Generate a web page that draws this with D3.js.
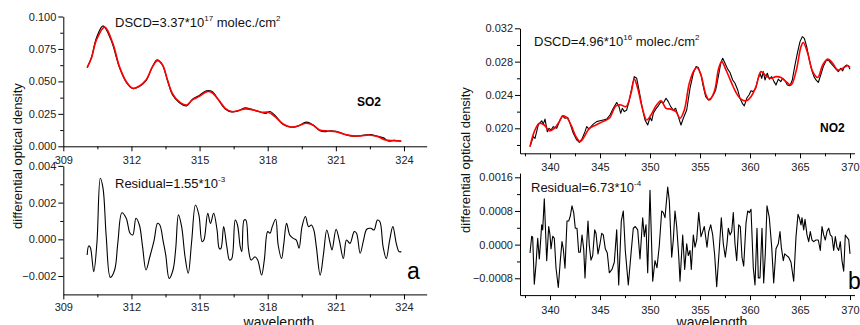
<!DOCTYPE html>
<html>
<head>
<meta charset="utf-8">
<script src="https://cdn.jsdelivr.net/npm/d3@7"></script>
<style>
  body { margin: 0; background: #fff; }
  svg { font-family: "Liberation Sans", Arial, sans-serif; }
</style>
</head>
<body>
<svg id="chart" width="860" height="325"></svg>
<script>
// ---- data: [wavelength, value] ----
const so2Measured = [[310.05,0.0605],[310.24,0.0685],[310.46,0.0835],[310.75,0.0928],[311.1,0.082],[311.47,0.061],[311.77,0.0495],[312.06,0.0445],[312.35,0.046],[312.64,0.0505],[312.93,0.0615],[313.12,0.0665],[313.35,0.063],[313.59,0.0505],[313.8,0.04],[314.1,0.0338],[314.43,0.0312],[314.68,0.036],[314.97,0.039],[315.3,0.0428],[315.55,0.0422],[315.84,0.0355],[316.13,0.0288],[316.42,0.0265],[316.71,0.0274],[317.0,0.0296],[317.3,0.0284],[317.6,0.0268],[317.9,0.0254],[318.1,0.0268],[318.35,0.0232],[318.68,0.0168],[319.04,0.0148],[319.33,0.0155],[319.7,0.0186],[319.99,0.0165],[320.28,0.0122],[320.5,0.0112],[320.7,0.0118],[321.0,0.0115],[321.37,0.0093],[321.74,0.0078],[322.1,0.0082],[322.5,0.009],[322.83,0.0078],[323.1,0.0065],[323.3,0.0041],[323.56,0.0045],[323.88,0.0039]];

const so2Fit = [[310.05,0.0607],[310.24,0.068],[310.46,0.082],[310.82,0.0918],[311.18,0.0794],[311.47,0.0614],[311.77,0.0499],[312.06,0.0447],[312.35,0.0465],[312.64,0.051],[312.93,0.0614],[313.15,0.066],[313.37,0.0627],[313.59,0.051],[313.8,0.0408],[314.1,0.0344],[314.43,0.0318],[314.68,0.0357],[314.97,0.0383],[315.33,0.0421],[315.55,0.0413],[315.84,0.0357],[316.13,0.0293],[316.42,0.0267],[316.71,0.0275],[317.0,0.0288],[317.37,0.028],[317.73,0.0262],[318.02,0.0262],[318.32,0.0229],[318.68,0.0172],[319.04,0.0147],[319.33,0.0157],[319.7,0.0177],[319.99,0.0164],[320.28,0.0126],[320.64,0.0118],[321.0,0.0113],[321.37,0.0093],[321.74,0.008],[322.1,0.008],[322.46,0.0087],[322.83,0.0075],[323.19,0.0049],[323.56,0.0044],[323.88,0.0041]];

// residual in units of 1e-3
const so2Residual = [[310.05,-0.85],[310.12,-0.36],[310.19,-0.44],[310.34,-1.76],[310.48,-0.2],[310.63,3.33],[310.75,2.78],[310.89,0.15],[311.07,-2.07],[311.26,-1.67],[311.4,-0.2],[311.58,1.45],[311.77,1.15],[311.94,0.33],[312.06,0.24],[312.2,1.15],[312.35,0.78],[312.49,-0.4],[312.64,-1.67],[312.81,-0.95],[313.0,-0.04],[313.15,0.87],[313.25,0.78],[313.4,-0.13],[313.51,-0.85],[313.66,-2.13],[313.83,-1.67],[313.95,-0.5],[314.07,1.33],[314.21,0.69],[314.36,-0.95],[314.5,-1.85],[314.65,-0.13],[314.82,1.87],[314.97,1.33],[315.11,-0.13],[315.19,-0.04],[315.36,1.42],[315.48,0.87],[315.62,1.42],[315.77,0.51],[315.87,-0.5],[315.94,-0.5],[316.06,0.69],[316.2,-0.4],[316.32,-1.13],[316.42,-1.04],[316.57,1.05],[316.67,0.78],[316.79,-0.4],[316.86,-0.67],[316.96,1.05],[317.04,1.05],[317.15,-0.49],[317.27,-1.13],[317.44,-0.95],[317.56,-1.13],[317.73,-1.95],[317.85,-1.13],[318.0,0.42],[318.1,0.33],[318.2,0.69],[318.35,1.09],[318.46,-0.31],[318.61,-1.04],[318.71,-0.22],[318.83,0.87],[318.97,0.24],[319.12,0.05],[319.26,-0.04],[319.38,-0.49],[319.51,0.69],[319.66,1.24],[319.8,0.69],[319.92,0.78],[320.03,0.51],[320.14,-0.4],[320.31,-1.95],[320.46,-0.76],[320.6,0.51],[320.75,-0.22],[320.83,-0.58],[321.01,0.55],[321.15,-0.04],[321.33,-1.04],[321.47,-0.04],[321.62,-0.22],[321.81,0.42],[321.91,0.33],[322.07,-0.76],[322.22,-0.04],[322.36,0.55],[322.54,0.6],[322.68,0.51],[322.83,1.05],[322.94,0.96],[323.08,-0.4],[323.22,-1.04],[323.37,-0.04],[323.51,0.69],[323.66,-0.22],[323.78,-0.67],[323.88,-0.67]];

const no2Measured = [[338.0,0.0178],[338.33,0.019],[338.5,0.0188],[338.83,0.0204],[339.17,0.0209],[339.33,0.0205],[339.5,0.0211],[339.73,0.0196],[339.9,0.02],[340.1,0.0198],[340.33,0.0202],[340.67,0.02],[341.0,0.021],[341.27,0.0215],[341.5,0.0212],[341.77,0.0213],[342.0,0.0206],[342.33,0.0194],[342.67,0.0186],[342.93,0.0183],[343.23,0.0188],[343.5,0.0196],[343.67,0.0202],[343.9,0.0199],[344.1,0.0202],[344.33,0.0205],[344.67,0.0208],[345.0,0.0209],[345.33,0.021],[345.67,0.0211],[346.0,0.0216],[346.33,0.0224],[346.67,0.0231],[346.9,0.0226],[347.07,0.0218],[347.23,0.0224],[347.43,0.022],[347.67,0.0222],[347.9,0.0232],[348.17,0.0248],[348.43,0.0262],[348.67,0.026],[348.93,0.0244],[349.23,0.0224],[349.5,0.021],[349.77,0.0204],[350.0,0.0213],[350.17,0.0209],[350.33,0.0218],[350.57,0.0223],[350.83,0.0227],[351.1,0.0232],[351.33,0.023],[351.6,0.0236],[351.83,0.0232],[352.07,0.0226],[352.33,0.0222],[352.57,0.0224],[352.83,0.0214],[353.1,0.0204],[353.33,0.0212],[353.67,0.0222],[354.0,0.0248],[354.33,0.0266],[354.6,0.0274],[354.83,0.0273],[355.1,0.0264],[355.33,0.025],[355.57,0.0238],[355.83,0.0234],[356.1,0.0236],[356.33,0.024],[356.57,0.0246],[356.83,0.0262],[357.07,0.0278],[357.27,0.0284],[357.5,0.0278],[357.77,0.0271],[358.0,0.0267],[358.27,0.0258],[358.5,0.0254],[358.77,0.0246],[359.0,0.0236],[359.23,0.023],[359.43,0.0227],[359.67,0.0236],[359.9,0.024],[360.1,0.0245],[360.33,0.0244],[360.57,0.0248],[360.77,0.0258],[361.0,0.0266],[361.17,0.026],[361.33,0.0268],[361.5,0.0258],[361.73,0.0266],[361.93,0.0259],[362.17,0.0262],[362.4,0.0256],[362.6,0.0252],[362.83,0.0259],[363.07,0.0256],[363.27,0.026],[363.5,0.0257],[363.73,0.0252],[364.0,0.0251],[364.23,0.0258],[364.5,0.0276],[364.77,0.0292],[365.0,0.0304],[365.23,0.031],[365.43,0.0308],[365.67,0.0298],[365.9,0.0284],[366.17,0.027],[366.4,0.0262],[366.6,0.0258],[366.83,0.0255],[367.07,0.0264],[367.33,0.0274],[367.6,0.0281],[367.83,0.0282],[368.1,0.0278],[368.33,0.0275],[368.6,0.0271],[368.83,0.0268],[369.07,0.0272],[369.27,0.0269],[369.43,0.0274],[369.67,0.0276],[369.83,0.0275],[370.0,0.0271]];

const no2Fit = [[338.0,0.0178],[338.43,0.0196],[338.93,0.0206],[339.43,0.0204],[339.93,0.0197],[340.43,0.02],[340.93,0.0208],[341.27,0.0215],[341.67,0.0213],[342.1,0.0204],[342.6,0.019],[343.0,0.0184],[343.43,0.019],[343.93,0.02],[344.6,0.0204],[345.27,0.0208],[345.93,0.0212],[346.6,0.0227],[347.1,0.0228],[347.6,0.0226],[348.1,0.0242],[348.43,0.0259],[348.77,0.0248],[349.2,0.0226],[349.67,0.021],[350.1,0.0216],[350.6,0.0227],[351.1,0.0233],[351.6,0.0224],[352.1,0.0223],[352.6,0.022],[353.0,0.0212],[353.43,0.0222],[353.93,0.0254],[354.43,0.027],[354.7,0.0273],[355.1,0.0264],[355.6,0.024],[355.93,0.0234],[356.43,0.0244],[356.87,0.0272],[357.17,0.028],[357.6,0.027],[358.1,0.0256],[358.6,0.0243],[359.1,0.0235],[359.6,0.0233],[360.1,0.0238],[360.6,0.025],[361.1,0.0268],[361.6,0.0263],[362.1,0.026],[362.6,0.0262],[363.1,0.0261],[363.6,0.0256],[364.1,0.0252],[364.6,0.0268],[365.1,0.0298],[365.33,0.0303],[365.77,0.029],[366.27,0.0268],[366.77,0.0261],[367.27,0.0276],[367.77,0.0283],[368.27,0.0278],[368.77,0.027],[369.27,0.0272],[369.77,0.0275],[370.0,0.0273]];

// residual in units of 1e-4
const no2Residual = [[338.0,-2.0],[338.17,2.0],[338.27,1.7],[338.43,-9.4],[338.6,-4.7],[338.77,1.5],[338.93,-3.4],[339.03,-0.2],[339.17,4.7],[339.27,3.5],[339.43,10.9],[339.67,-3.8],[339.87,4.3],[340.0,2.3],[340.1,-1.0],[340.27,2.0],[340.43,1.5],[340.6,-5.5],[340.83,-10.2],[341.03,-3.8],[341.2,0.7],[341.33,-1.0],[341.5,-5.6],[341.7,5.6],[341.87,5.6],[342.03,6.8],[342.2,9.2],[342.37,7.6],[342.53,3.9],[342.7,3.9],[342.87,-1.8],[343.03,-1.8],[343.2,2.3],[343.37,-1.0],[343.5,-7.9],[343.67,0.2],[343.8,5.6],[343.93,-0.2],[344.1,-3.7],[344.27,-2.6],[344.47,3.5],[344.6,2.7],[344.8,-2.2],[345.0,0.2],[345.17,2.7],[345.33,2.3],[345.53,-1.0],[345.73,-2.0],[345.93,-6.7],[346.2,-5.9],[346.43,-4.2],[346.67,3.5],[346.87,-9.6],[347.13,5.6],[347.33,8.0],[347.53,-1.4],[347.83,-9.6],[348.1,-2.2],[348.33,3.9],[348.53,4.3],[348.77,3.5],[349.0,-3.4],[349.27,6.4],[349.43,1.9],[349.6,4.7],[349.77,-6.7],[350.0,12.9],[350.27,-8.7],[350.5,-3.8],[350.7,-5.5],[350.93,-0.2],[351.17,8.0],[351.33,7.6],[351.5,6.4],[351.77,13.7],[351.93,10.4],[352.17,-3.0],[352.33,1.1],[352.5,8.0],[352.67,4.3],[352.87,-2.6],[353.0,-8.7],[353.27,2.3],[353.47,-5.9],[353.67,0.2],[353.83,-2.6],[354.0,-1.4],[354.13,-5.9],[354.33,2.3],[354.5,-0.6],[354.67,1.1],[354.87,7.6],[355.1,1.9],[355.27,3.1],[355.43,4.3],[355.7,-0.6],[355.87,3.1],[356.07,4.7],[356.27,2.3],[356.47,-2.6],[356.67,-10.0],[356.93,-1.0],[357.13,6.4],[357.33,0.2],[357.53,-3.0],[357.7,0.2],[357.83,3.9],[358.0,2.3],[358.17,3.1],[358.33,7.6],[358.5,0.2],[358.67,-3.8],[358.87,4.7],[359.03,4.3],[359.2,-3.0],[359.37,-5.1],[359.6,5.1],[359.77,8.0],[359.93,7.6],[360.1,8.4],[360.33,-5.5],[360.5,-9.6],[360.7,3.9],[360.83,-7.9],[361.0,-7.9],[361.2,3.9],[361.37,-9.1],[361.53,-2.2],[361.7,9.2],[361.93,6.4],[362.17,-0.6],[362.37,-9.1],[362.6,-1.0],[362.83,0.2],[363.0,3.1],[363.13,-0.6],[363.33,-3.8],[363.47,-2.2],[363.67,-2.6],[363.87,-3.0],[364.1,-4.2],[364.37,-8.7],[364.6,1.9],[364.8,7.2],[364.93,6.4],[365.1,4.7],[365.2,6.4],[365.37,3.5],[365.5,6.0],[365.7,2.3],[365.87,0.7],[366.03,3.1],[366.2,1.1],[366.37,0.7],[366.6,1.1],[366.83,1.1],[367.03,-1.4],[367.2,4.3],[367.37,2.3],[367.53,1.1],[367.7,3.1],[367.87,3.9],[368.03,2.3],[368.2,1.9],[368.37,-1.4],[368.53,1.9],[368.7,-0.6],[368.87,-1.4],[369.03,0.7],[369.2,-3.8],[369.37,-6.3],[369.53,2.3],[369.7,1.7],[369.87,1.2],[370.0,-2.2]];

// ---- ticks ----
const so2XTicks = [309, 312, 315, 318, 321, 324];
const so2XMinor = [310.5, 313.5, 316.5, 319.5, 322.5];
const so2YTicks = [0, 0.025, 0.05, 0.075, 0.1];
const so2YMinor = [0.0125, 0.0375, 0.0625, 0.0875];
const so2ResTicks = [-0.002, 0, 0.002, 0.004];
const so2ResMinor = [-0.001, 0.001, 0.003];
const no2XTicks = [340, 345, 350, 355, 360, 365, 370];
const no2XMinor = [337.5, 342.5, 347.5, 352.5, 357.5, 362.5, 367.5];
const no2YTicks = [0.020, 0.024, 0.028, 0.032];
const no2YMinor = [0.018, 0.022, 0.026, 0.030];
const no2ResTicks = [-0.0008, 0, 0.0008, 0.0016];
const no2ResMinor = [-0.0004, 0.0004, 0.0012];

const svg = d3.select('#chart');

function panel(o) {
  const x = d3.scaleLinear().domain(o.xDomain).range(o.xRange);
  const y = d3.scaleLinear().domain(o.yDomain).range(o.yRange);
  const g = svg.append('g');

  // minor ticks first
  g.append('g')
    .attr('transform', `translate(0,${o.yRange[0]})`)
    .call(d3.axisBottom(x).tickValues(o.xMinor).tickSize(3).tickFormat(''))
    .call(a => a.select('.domain').remove());
  g.append('g')
    .attr('transform', `translate(${o.xRange[0]},0)`)
    .call(d3.axisLeft(y).tickValues(o.yMinor).tickSize(3).tickFormat(''))
    .call(a => a.select('.domain').remove());

  g.append('g')
    .attr('transform', `translate(0,${o.yRange[0]})`)
    .call(d3.axisBottom(x).tickValues(o.xTicks).tickSize(5).tickPadding(o.xPad).tickSizeOuter(0).tickFormat(d3.format('d')))
    .call(a => a.selectAll('text').attr('font-size', 11).attr('fill', '#222'));
  g.append('g')
    .attr('transform', `translate(${o.xRange[0]},0)`)
    .call(d3.axisLeft(y).tickValues(o.yTicks).tickSize(5).tickPadding(2).tickSizeOuter(0).tickFormat(d3.format(o.yFmt)))
    .call(a => a.selectAll('text').attr('font-size', 11).attr('fill', '#222'));

  g.selectAll('.domain, .tick line').attr('stroke', '#000').attr('stroke-width', 1);

  o.series.forEach(s => {
    g.append('path')
      .datum(s.data)
      .attr('fill', 'none')
      .attr('stroke', s.color)
      .attr('stroke-width', s.width)
      .attr('stroke-linejoin', 'round')
      .attr('d', d3.line()
        .x(d => x(d[0]))
        .y(d => y(d[1] * (s.scale || 1)))
        .curve(s.curve || d3.curveCatmullRom));
  });
  return g;
}

// panel a
panel({
  xDomain: [309, 325], xRange: [63.3, 426.7],
  yDomain: [0, 0.1], yRange: [146.3, 16.5],
  xTicks: so2XTicks, xMinor: so2XMinor, yTicks: so2YTicks, yMinor: so2YMinor,
  yFmt: '.3f', xPad: 5,
  series: [
    { data: so2Measured, color: '#000', width: 1.2 },
    { data: so2Fit, color: '#ff0000', width: 1.6 }
  ]
});
panel({
  xDomain: [309, 325], xRange: [63.3, 426.7],
  yDomain: [-0.003, 0.004], yRange: [294.4, 165.9],
  xTicks: so2XTicks, xMinor: so2XMinor, yTicks: so2ResTicks, yMinor: so2ResMinor,
  yFmt: '.3f', xPad: 4,
  series: [{ data: so2Residual, color: '#000', width: 1.1, scale: 1e-3 }]
});

// panel b
panel({
  xDomain: [337, 370.45], xRange: [520, 854.5],
  yDomain: [0.017, 0.032], yRange: [153.3, 28.3],
  xTicks: no2XTicks, xMinor: no2XMinor, yTicks: no2YTicks, yMinor: no2YMinor,
  yFmt: '.3f', xPad: 5,
  series: [
    { data: no2Measured, color: '#000', width: 1.1, curve: d3.curveLinear },
    { data: no2Fit, color: '#ff0000', width: 1.6 }
  ]
});
panel({
  xDomain: [337, 370.45], xRange: [520, 854.5],
  yDomain: [-0.0012, 0.0017], yRange: [295.1, 173.1],
  xTicks: no2XTicks, xMinor: no2XMinor, yTicks: no2ResTicks, yMinor: no2ResMinor,
  yFmt: '.4f', xPad: 6,
  series: [{ data: no2Residual, color: '#000', width: 1.1, scale: 1e-4, curve: d3.curveLinear }]
});

// ---- annotations ----
function supText(x, y, parts) {
  const t = svg.append('text').attr('x', x).attr('y', y).attr('font-size', 13).attr('fill', '#111');
  parts.forEach(p => {
    t.append('tspan').attr('dy', p.dy || 0).attr('font-size', p.size || 13).text(p.t);
  });
}
supText(115, 27, [{ t: 'DSCD=3.37*10' }, { t: '17', size: 8, dy: -6 }, { t: ' molec./cm', dy: 6 }, { t: '2', size: 8, dy: -6 }]);
supText(534, 46, [{ t: 'DSCD=4.96*10' }, { t: '16', size: 8, dy: -6 }, { t: ' molec./cm', dy: 6 }, { t: '2', size: 8, dy: -6 }]);
supText(115, 188, [{ t: 'Residual=1.55*10' }, { t: '-3', size: 8, dy: -6 }]);
supText(531, 192, [{ t: 'Residual=6.73*10' }, { t: '-4', size: 8, dy: -6 }]);

svg.append('text').attr('x', 357).attr('y', 106).attr('font-size', 12).attr('font-weight', 'bold').text('SO2');
svg.append('text').attr('x', 820).attr('y', 132).attr('font-size', 12).attr('font-weight', 'bold').text('NO2');
svg.append('text').attr('x', 407).attr('y', 279).attr('font-size', 23).text('a');
svg.append('text').attr('x', 848).attr('y', 289).attr('font-size', 23).text('b');

[[279, 327], [712, 327]].forEach(([cx, cy]) => {
  svg.append('text').attr('x', cx).attr('y', cy).attr('text-anchor', 'middle')
    .attr('font-size', 14).attr('fill', '#111').text('wavelength');
});
[[22, 156], [470, 160]].forEach(([cx, cy]) => {
  svg.append('text').attr('transform', `translate(${cx},${cy}) rotate(-90)`)
    .attr('text-anchor', 'middle').attr('font-size', 13).attr('fill', '#111')
    .text('differential optical density');
});
</script>
</body>
</html>
